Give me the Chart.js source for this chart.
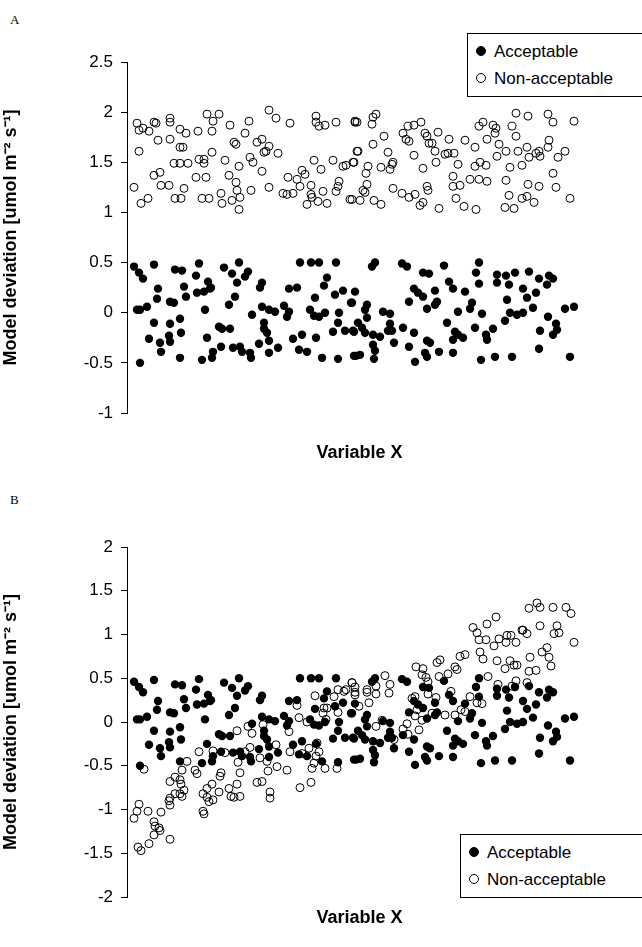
<!DOCTYPE html>
<html>
<head>
<meta charset="UTF-8">
<title>Model deviation</title>
<script src="https://cdn.jsdelivr.net/npm/chart.js"></script>
<style>
  body { margin: 0; background: #fff; font-family: "Liberation Sans", Arial, sans-serif; }
  .wrap { position: absolute; left: 0; width: 642px; }
  .tag { position: absolute; left: 10px; font-family: "Liberation Serif", serif; font-size: 13px; }
  .legend { position: absolute; border: 1px solid #000; background: #fff; font-size: 17px; padding: 4px 8px; line-height: 27px; white-space: nowrap; }
  .dot { display: inline-block; width: 8px; height: 8px; border-radius: 50%; border: 1px solid #000; margin-right: 8px; vertical-align: 1px; }
</style>
</head>
<body>
<div class="tag" style="top:12px">A</div>
<div class="tag" style="top:492px">B</div>
<div class="wrap" style="top:0;height:470px"><canvas id="chartA"></canvas></div>
<div class="wrap" style="top:470px;height:477px"><canvas id="chartB"></canvas></div>
<div class="legend" style="left:467px;top:33px;width:170px">
  <div><span class="dot" style="background:#000"></span>Acceptable</div>
  <div><span class="dot"></span>Non-acceptable</div>
</div>
<div class="legend" style="left:460px;top:834px;width:180px">
  <div><span class="dot" style="background:#000"></span>Acceptable</div>
  <div><span class="dot"></span>Non-acceptable</div>
</div>
<script>
// acceptable points (same in both panels)
const accX = [134,139,143,154,175,182,199,196,208,211,224,232,239,248,245,237,262,260,300,311,319,336,327,324,289,297,
  158,184,186,197,204,210,157,170,174,235,229,137,140,147,205,262,269,275,284,289,287,310,314,319,325,315,335,343,351,339,
  154,170,180,181,252,264,264,267,219,222,230,338,345,333,354,149,160,169,170,207,161,293,302,316,221,233,240,242,250,251,
  259,269,269,278,299,307,322,338,354,140,180,202,212,213,
  375,372,402,407,444,423,429,479,476,497,506,515,529,549,553,497,509,479,539,547,449,355,414,418,423,435,453,465,523,536,
  527,507,409,437,435,352,367,365,472,470,427,458,383,390,482,510,517,523,533,565,574,367,358,362,390,392,403,353,365,373,
  380,388,414,447,455,458,463,453,475,486,487,493,505,548,556,557,553,540,394,373,375,409,427,430,439,453,425,427,356,360,
  374,415,481,495,512,539,570];
const accY = [0.46,0.40,0.34,0.48,0.43,0.42,0.49,0.37,0.31,0.25,0.45,0.39,0.50,0.41,0.36,0.30,0.30,0.25,0.50,0.50,0.50,0.50,0.35,0.27,0.24,0.25,
  0.24,0.26,0.16,0.20,0.21,0.24,0.14,0.11,0.10,0.16,0.08,0.03,0.03,0.06,0.03,0.06,0.03,0.01,0.07,0.01,-0.04,0.03,-0.03,-0.04,0.00,0.15,0.18,0.22,0.10,0.00,
  -0.10,-0.11,-0.06,-0.20,-0.02,-0.10,-0.16,-0.20,-0.14,-0.16,-0.16,-0.10,-0.18,-0.19,-0.19,-0.26,-0.30,-0.23,-0.29,-0.25,-0.39,-0.26,-0.22,-0.25,-0.34,-0.35,-0.34,-0.39,-0.40,-0.45,
  -0.31,-0.28,-0.40,-0.35,-0.37,-0.39,-0.45,-0.46,-0.43,-0.50,-0.45,-0.47,-0.45,-0.39,
  0.50,0.46,0.49,0.46,0.47,0.40,0.39,0.50,0.40,0.38,0.37,0.40,0.41,0.37,0.34,0.30,0.28,0.29,0.34,0.28,0.31,0.21,0.24,0.20,0.16,0.22,0.24,0.21,0.24,0.20,
  0.15,0.13,0.11,0.11,0.08,0.10,0.08,0.03,0.10,0.04,0.04,0.01,0.01,-0.01,-0.01,0.00,-0.02,0.00,0.05,0.04,0.06,-0.05,-0.10,-0.15,-0.11,-0.18,-0.15,-0.18,-0.20,-0.22,
  -0.24,-0.18,-0.20,-0.10,-0.19,-0.22,-0.25,-0.27,-0.15,-0.22,-0.27,-0.16,-0.08,-0.04,-0.11,-0.17,-0.22,-0.18,-0.30,-0.32,-0.38,-0.34,-0.28,-0.30,-0.39,-0.40,-0.40,-0.44,-0.43,-0.42,
  -0.46,-0.49,-0.47,-0.44,-0.44,-0.36,-0.44];

// panel A non-acceptable
const naAX = [137,139,143,149,154,156,170,170,180,186,198,207,219,212,213,230,249,245,269,276,290,316,316,319,325,336,355,
  139,158,170,180,183,212,234,236,257,262,269,264,266,278,199,204,204,174,180,188,225,239,250,253,262,314,321,333,343,346,354,357,
  154,160,161,169,184,196,206,229,236,237,134,148,141,175,181,202,209,221,222,232,240,239,251,269,283,287,293,288,297,302,305,300,
  311,311,312,307,318,327,323,336,338,339,350,
  355,357,373,376,372,408,414,421,438,425,427,403,384,406,409,429,432,449,465,479,483,493,496,495,512,516,528,548,553,574,
  487,516,499,475,549,548,527,373,358,388,353,368,366,381,390,392,393,414,423,436,435,445,448,454,458,475,480,486,497,506,
  518,529,536,540,539,565,558,510,522,553,453,453,460,470,479,487,506,427,428,393,402,409,415,367,363,365,352,360,374,381,
  420,423,439,456,464,476,509,522,527,534,505,514,528,539,556,570];
const naAY = [1.89,1.82,1.84,1.81,1.90,1.89,1.94,1.90,1.83,1.79,1.81,1.98,1.98,1.81,1.91,1.87,1.91,1.79,2.02,1.94,1.89,1.96,1.90,1.86,1.87,1.90,1.90,
  1.61,1.72,1.73,1.65,1.65,1.60,1.70,1.68,1.70,1.73,1.66,1.60,1.61,1.59,1.53,1.53,1.49,1.49,1.49,1.49,1.52,1.46,1.55,1.50,1.41,1.52,1.43,1.52,1.46,1.47,1.50,1.61,
  1.37,1.40,1.27,1.27,1.24,1.35,1.35,1.37,1.30,1.22,1.25,1.14,1.09,1.14,1.14,1.14,1.14,1.19,1.09,1.12,1.15,1.03,1.22,1.25,1.19,1.18,1.19,1.35,1.33,1.42,1.38,1.26,
  1.27,1.18,1.15,1.08,1.11,1.09,1.21,1.21,1.26,1.31,1.13,
  1.91,1.90,1.95,1.98,1.88,1.86,1.87,1.90,1.80,1.79,1.76,1.79,1.76,1.73,1.71,1.69,1.69,1.73,1.72,1.86,1.90,1.87,1.84,1.79,1.86,1.99,1.96,1.98,1.90,1.91,
  1.73,1.76,1.68,1.65,1.72,1.65,1.65,1.68,1.61,1.60,1.50,1.46,1.39,1.45,1.43,1.48,1.50,1.57,1.44,1.50,1.61,1.58,1.59,1.59,1.48,1.46,1.50,1.47,1.56,1.61,
  1.61,1.55,1.59,1.56,1.61,1.61,1.55,1.45,1.47,1.39,1.36,1.26,1.27,1.33,1.33,1.31,1.32,1.26,1.22,1.24,1.19,1.15,1.18,1.28,1.22,1.20,1.13,1.12,1.12,1.08,
  1.07,1.10,1.04,1.14,1.06,1.03,1.17,1.14,1.16,1.10,1.05,1.04,1.28,1.26,1.25,1.14];

// panel B non-acceptable
const naBX = [141,138,149,170,154,155,159,160,154,134,137,139,148,161,170,169,170,175,180,184,182,170,175,180,182,187,181,144,
  199,197,195,203,204,203,207,212,207,209,213,219,221,220,213,225,229,231,234,240,237,240,238,237,245,250,248,252,263,257,262,
  270,270,268,277,267,260,276,289,290,287,299,307,309,302,300,311,312,314,317,319,316,325,337,315,324,327,323,326,334,338,344,
  346,352,355,338,297,
  352,355,355,367,367,376,376,385,390,389,369,359,376,382,394,403,408,419,407,415,417,422,412,415,416,423,422,426,428,428,
  436,432,437,440,439,448,451,455,457,460,465,445,455,461,465,470,477,482,488,480,483,473,477,479,486,487,496,494,499,506,
  507,511,516,522,523,527,497,505,510,514,517,516,498,512,527,530,529,536,529,537,540,553,566,571,540,557,554,559,574,542,
  547,549,551];
const naBY = [-1.47,-1.43,-1.39,-1.34,-1.29,-1.19,-1.21,-1.24,-1.14,-1.10,-1.02,-0.94,-1.02,-1.03,-0.95,-0.90,-0.87,-0.82,-0.82,-0.78,-0.85,-0.68,-0.63,-0.66,-0.55,-0.45,-0.71,-0.54,
  -0.34,-0.59,-0.55,-1.02,-1.05,-0.82,-0.76,-0.71,-0.86,-0.91,-0.89,-0.80,-0.58,-0.62,-0.33,-0.35,-0.76,-0.85,-0.86,-0.85,-0.71,-0.58,-0.46,-0.10,-0.34,-0.29,-0.05,-0.13,-0.03,-0.69,-0.68,
  -0.80,-0.87,-0.56,-0.51,-0.45,-0.41,-0.26,-0.11,-0.34,-0.55,0.05,0.00,-0.30,-0.36,-0.75,-0.69,-0.53,-0.47,-0.24,-0.34,-0.39,-0.53,-0.53,0.30,0.16,0.16,0.10,0.03,0.29,0.37,0.35,
  0.37,0.45,0.34,0.11,0.19,
  0.45,0.40,0.31,0.37,0.34,0.32,0.41,0.53,0.43,0.33,0.22,0.18,-0.05,0.02,-0.20,-0.08,-0.14,-0.09,-0.02,0.07,0.14,0.02,0.27,0.29,0.63,0.61,0.54,0.51,0.46,0.32,
  0.28,0.10,0.68,0.71,0.52,0.55,0.35,0.63,0.60,0.75,0.77,0.08,0.08,0.14,0.12,0.29,0.22,0.21,0.52,0.80,0.72,1.08,1.02,0.94,0.94,1.12,1.20,0.87,0.95,0.91,
  0.99,0.99,0.91,1.05,1.05,1.01,0.70,0.61,0.70,0.65,0.65,0.47,0.43,0.41,0.45,0.74,0.58,0.59,1.30,1.36,1.31,1.31,1.31,1.24,1.10,1.10,1.01,1.02,0.91,0.80,
  0.85,0.74,0.64];

const ticksA = { min: -1, max: 2.5, step: 0.5 };
const ticksB = { min: -2, max: 2, step: 0.5 };

function pts(xs, ys) { return xs.map((x, i) => ({ x, y: ys[i] })); }

function makeChart(id, naX, naY, t, padTop, xHeight, titlePad) {
  return new Chart(document.getElementById(id), {
    type: 'scatter',
    data: {
      datasets: [
        { label: 'Non-acceptable', data: pts(naX, naY), pointRadius: 4, pointBorderWidth: 1,
          borderColor: '#000', backgroundColor: 'rgba(255,255,255,0)', pointHoverRadius: 4 },
        { label: 'Acceptable', data: pts(accX, accY), pointRadius: 4.2, pointBorderWidth: 0,
          borderColor: '#000', backgroundColor: '#000', pointHoverRadius: 4 }
      ]
    },
    options: {
      responsive: true, maintainAspectRatio: false, animation: false,
      layout: { padding: { top: padTop, right: 50, left: 0, bottom: 0 } },
      plugins: { legend: { display: false }, tooltip: { enabled: false } },
      scales: {
        x: {
          min: 127, max: 592,
          ticks: { display: false },
          grid: { display: false },
          border: { display: false },
          title: { display: true, text: 'Variable X', color: '#000',
            font: { family: 'Liberation Sans', size: 18, weight: 'bold' }, padding: { top: 0, bottom: titlePad } },
          afterFit: s => { s.height = xHeight; }
        },
        y: {
          min: t.min, max: t.max,
          ticks: { stepSize: t.step, color: '#000', padding: 8,
            font: { family: 'Liberation Sans', size: 17 },
            callback: v => String(Math.round(v * 10) / 10) },
          grid: { drawOnChartArea: false, drawTicks: true, tickLength: 6, color: '#000' },
          border: { display: true, color: '#000', width: 1 },
          title: { display: true, text: 'Model deviation [umol m\u207B\u00B2 s\u207B\u00B9]', color: '#000',
            font: { family: 'Liberation Sans', size: 18, weight: 'bold' }, padding: { top: 0, bottom: 6 } },
          afterFit: s => { s.width = 127; }
        }
      }
    }
  });
}

makeChart('chartA', naAX, naAY, ticksA, 62, 57, 6);
makeChart('chartB', naBX, naBY, ticksB, 77, 50, 18);
</script>
</body>
</html>
